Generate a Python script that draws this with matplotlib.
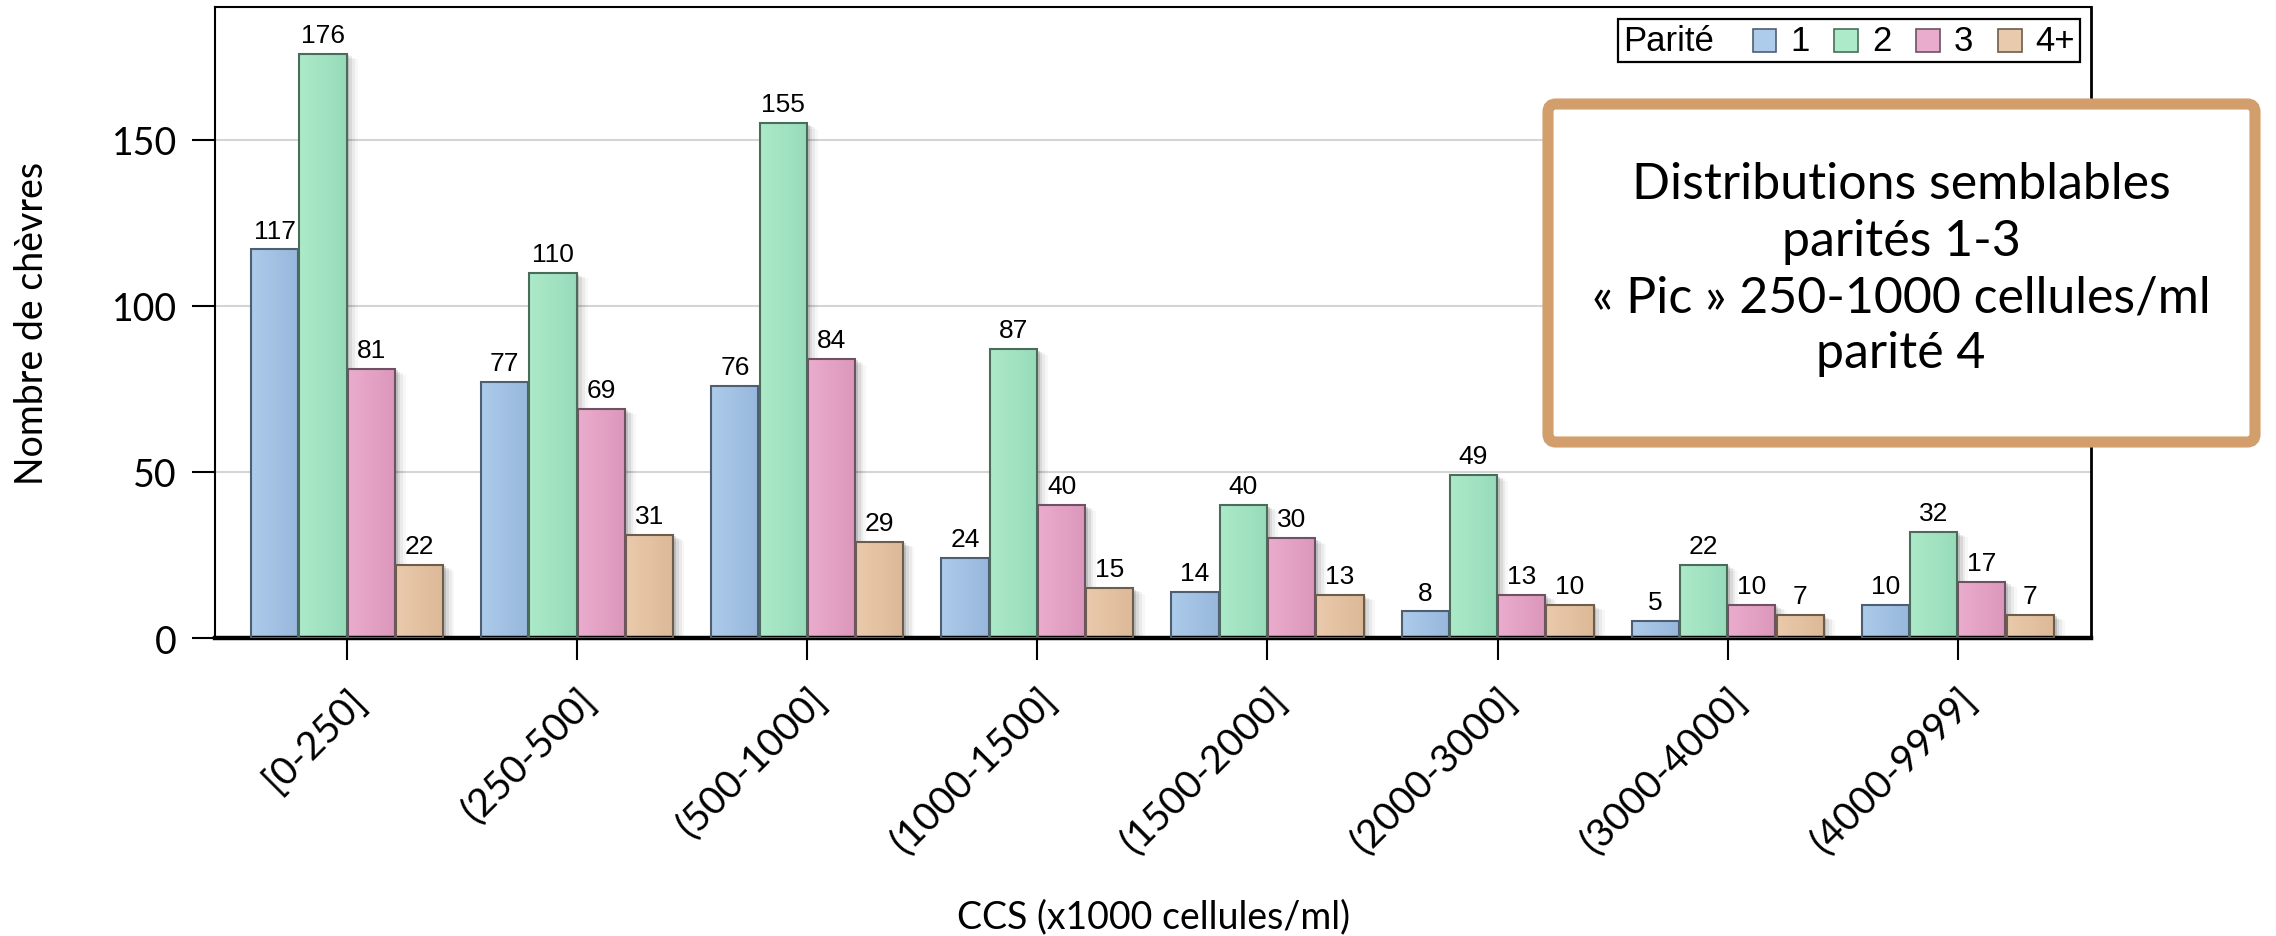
import numpy as np
import matplotlib
matplotlib.use('Agg')
import matplotlib.pyplot as plt
import matplotlib.patheffects as pe
from matplotlib.patches import Rectangle, FancyBboxPatch
from matplotlib.offsetbox import AnchoredOffsetbox, HPacker, TextArea, DrawingArea
from matplotlib.colors import to_rgb

plt.rcParams['font.family'] = ['Lato', 'DejaVu Sans']

# nombre de chèvres par classe de CCS et par parité
categories = ['[0-250]', '(250-500]', '(500-1000]', '(1000-1500]',
              '(1500-2000]', '(2000-3000]', '(3000-4000]', '(4000-9999]']
parites = ['1', '2', '3', '4+']
parite_1 = [117, 77, 76, 24, 14, 8, 5, 10]
parite_2 = [176, 110, 155, 87, 40, 49, 22, 32]
parite_3 = [81, 69, 84, 40, 30, 13, 10, 17]
parite_4 = [22, 31, 29, 15, 13, 10, 7, 7]
series = [parite_1, parite_2, parite_3, parite_4]

# couleurs : clair à gauche, plus foncé à droite (dégradé des barres)
light = ['#adcbea', '#aceac9', '#eaaccd', '#eacaac']
dark = ['#97b7dc', '#97dbba', '#dc97bb', '#dcb997']
edges = ['#4e5f72', '#4a6d5b', '#6d5262', '#6d5d4d']

fig = plt.figure(figsize=(22.76, 9.37), dpi=100)
ax = fig.add_axes([0.0945, 0.318, 0.8243, 0.6734])

x = np.arange(len(categories))
step, width = 0.21, 0.205
shadow = [pe.SimplePatchShadow(offset=(2, -1), shadow_rgbFace='black', alpha=0.12),
          pe.SimplePatchShadow(offset=(4, -2), shadow_rgbFace='black', alpha=0.08),
          pe.SimplePatchShadow(offset=(6, -3), shadow_rgbFace='black', alpha=0.05),
          pe.SimplePatchShadow(offset=(8, -4), shadow_rgbFace='black', alpha=0.03),
          pe.Normal()]

for i, vals in enumerate(series):
    pos = x + (i - 1.5) * step
    grad = np.linspace(to_rgb(light[i]), to_rgb(dark[i]), 32)[None, :, :]
    fills = ax.bar(pos, vals, width=width, color=light[i], linewidth=0, zorder=2)
    for rect in fills:
        rect.set_path_effects(shadow)
        x0, w, h = rect.get_x(), rect.get_width(), rect.get_height()
        im = ax.imshow(grad, extent=(x0, x0 + w, 0, h), aspect='auto',
                       interpolation='bilinear', zorder=2.2)
        im.set_clip_path(rect)
    ax.bar(pos, vals, width=width, facecolor='none', edgecolor=edges[i],
           linewidth=1.5, zorder=3)
    for xp, v in zip(pos, vals):
        ax.annotate(str(v), (xp, v), xytext=(0, 5), textcoords='offset points',
                    ha='center', va='bottom', fontsize=19, family='Liberation Sans')

ax.set_xlim(-0.574, 7.58)
ax.set_ylim(0, 190)
ax.set_aspect('auto')

ax.set_xticks(x)
ax.set_xticklabels(categories, rotation=45, ha='right', va='top',
                   rotation_mode='anchor', fontsize=28)
ax.set_yticks([0, 50, 100, 150])
ax.tick_params(axis='x', length=16, width=1.5, pad=15)
ax.tick_params(axis='y', length=16.5, width=1.5, pad=11, labelsize=27)

ax.yaxis.grid(True, color='#d4d4d4', linewidth=1.5)
ax.set_axisbelow(True)
for side, lw in [('left', 1.5), ('top', 1.5), ('right', 2), ('bottom', 3.2)]:
    ax.spines[side].set_linewidth(lw)
    ax.spines[side].set_color('black')

ax.set_ylabel('Nombre de chèvres', fontsize=27)
ax.yaxis.set_label_coords(-0.088, 0.5)
ax.set_xlabel('CCS (x1000 cellules/ml)', fontsize=27)
ax.xaxis.set_label_coords(0.5, -0.412)

# légende horizontale avec le titre à gauche
tp = dict(fontsize=25, family='Liberation Sans', color='black')
items = [HPacker(children=[TextArea('Parité', textprops=tp), DrawingArea(10, 1)],
                 align='center', pad=0, sep=0)]
for lab, c, e in zip(parites, light, edges):
    sw = DrawingArea(17, 17)
    sw.add_artist(Rectangle((0, 0), 17, 17, facecolor=c, edgecolor=e, linewidth=1.2))
    items.append(HPacker(children=[sw, TextArea(lab, textprops=tp)],
                         align='center', pad=0, sep=10))
leg_box = HPacker(children=items, align='center', pad=0, sep=18)
leg = AnchoredOffsetbox(loc='upper right', child=leg_box, pad=0.35, borderpad=0,
                        frameon=True, bbox_to_anchor=(0.9941, 0.981),
                        bbox_transform=ax.transAxes)
leg.patch.set_boxstyle('square,pad=0')
leg.patch.set_edgecolor('black')
leg.patch.set_linewidth(1.6)
ax.add_artist(leg)

# encadré de commentaire
note = FancyBboxPatch((15.48, 4.94), 7.07, 3.38,
                      boxstyle='round,pad=0,rounding_size=0.08',
                      transform=fig.dpi_scale_trans, facecolor='white',
                      edgecolor='#d29e6c', linewidth=8, zorder=10)
fig.add_artist(note)
fig.text(19.01 / 22.76, 0.712,
         'Distributions semblables\nparités 1-3\n« Pic » 250-1000 cellules/ml\nparité 4',
         ha='center', va='center', fontsize=36, linespacing=1.28, zorder=11)

plt.savefig('out.png', dpi=100)
